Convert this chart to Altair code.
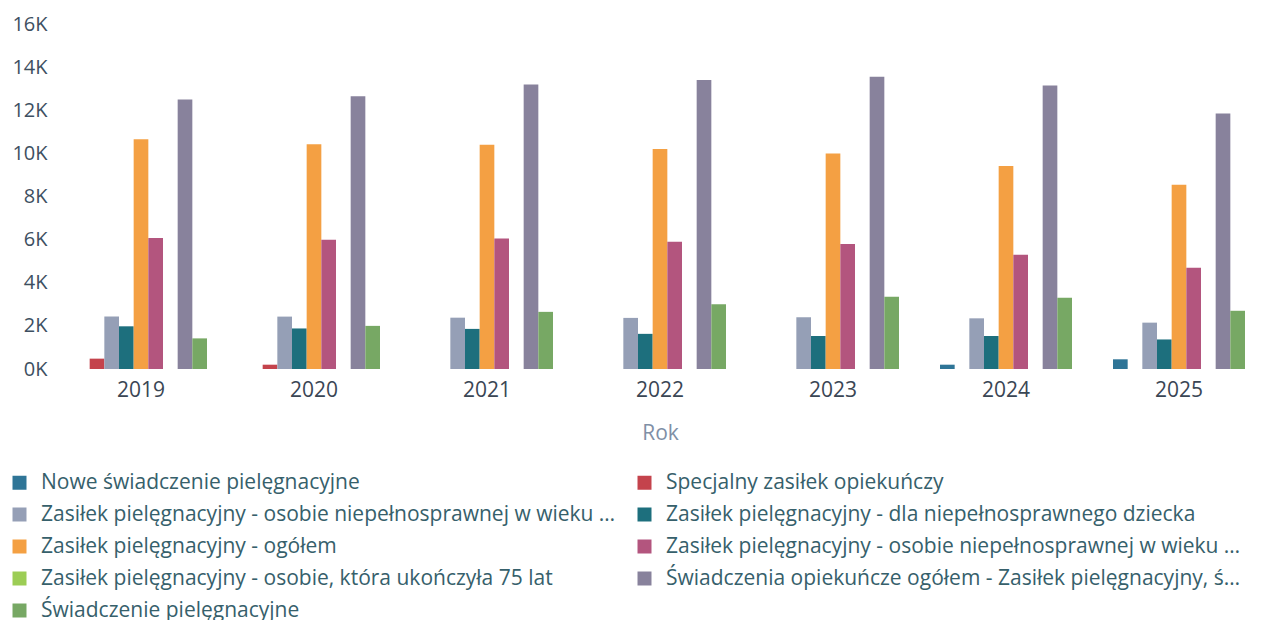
import altair as alt
import pandas as pd

years = ["2019", "2020", "2021", "2022", "2023", "2024", "2025"]

series = [
    "Nowe świadczenie pielęgnacyjne",
    "Specjalny zasiłek opiekuńczy",
    "Zasiłek pielęgnacyjny -  osobie niepełnosprawnej w wieku powyżej 16 roku życia, jeżeli legitymuje się orzeczeniem o znacznym stopniu niepełnosprawności",
    "Zasiłek pielęgnacyjny - dla niepełnosprawnego dziecka",
    "Zasiłek pielęgnacyjny - ogółem",
    "Zasiłek pielęgnacyjny - osobie niepełnosprawnej w wieku powyżej 16 roku życia, jeżeli legitymuje się orzeczeniem o umiarkowanym stopniu niepełnosprawności",
    "Zasiłek pielęgnacyjny - osobie, która ukończyła 75 lat",
    "Świadczenia opiekuńcze ogółem - Zasiłek pielęgnacyjny, świadczenie pielęgnacyjne, specjalny zasiłek opiekuńczy",
    "Świadczenie pielęgnacyjne",
]

colors = ["#2f7597", "#c4434c", "#959fb6", "#1d6f7d", "#f4a043",
          "#b3557e", "#9ccd55", "#88829c", "#77a864"]

nowe = [0, 0, 0, 0, 0, 200, 450]
specjalny = [480, 200, 0, 0, 0, 0, 0]
znaczny = [2430, 2430, 2380, 2370, 2400, 2350, 2150]
dziecko = [1980, 1880, 1860, 1630, 1530, 1530, 1370]
ogolem = [10650, 10420, 10400, 10200, 10000, 9420, 8550]
umiarkowany = [6070, 6000, 6050, 5900, 5800, 5300, 4700]
lat75 = [0, 0, 0, 0, 0, 0, 0]
opiekuncze = [12500, 12650, 13200, 13400, 13550, 13150, 11850]
swiadczenie = [1420, 2000, 2650, 3000, 3350, 3300, 2700]

values = [nowe, specjalny, znaczny, dziecko, ogolem, umiarkowany, lat75, opiekuncze, swiadczenie]

rows = []
for s, vals in zip(series, values):
    for y, v in zip(years, vals):
        if v > 0:
            rows.append({"Rok": y, "Seria": s, "Wartość": v})
df = pd.DataFrame(rows)

# legend is filled column by column: reorder so it reads row by row
legend_order = [0, 2, 4, 6, 8, 1, 3, 5, 7]
legend_domain = [series[i] for i in legend_order]
legend_range = [colors[i] for i in legend_order]

FONT = "Open Sans"

chart = alt.Chart(df).mark_bar().encode(
    x=alt.X("Rok:N", sort=years,
            scale=alt.Scale(paddingInner=0.237, paddingOuter=0),
            axis=alt.Axis(title="Rok", labelAngle=0, domain=False, ticks=False,
                          labelFontSize=21, labelColor="#3a4654", labelPadding=10,
                          titleFontSize=21, titleColor="#7f8fa6", titleFontWeight="normal",
                          titlePadding=22, labelFont=FONT, titleFont=FONT)),
    xOffset=alt.XOffset("Seria:N", sort=series,
                        scale=alt.Scale(domain=series, paddingInner=0, paddingOuter=0)),
    y=alt.Y("Wartość:Q",
            scale=alt.Scale(domain=[0, 16000], nice=False),
            axis=alt.Axis(title=None, values=list(range(0, 16001, 2000)),
                          labelExpr="(datum.value/1000) + 'K'", grid=False,
                          domain=False, ticks=False, labelFontSize=20,
                          labelColor="#3d4f61", labelPadding=28, labelFont=FONT)),
    color=alt.Color("Seria:N",
                    scale=alt.Scale(domain=legend_domain, range=legend_range),
                    legend=alt.Legend(title=None, orient="none", legendX=-66, legendY=448,
                                      columns=2, symbolType="square", symbolSize=196,
                                      labelFontSize=21, labelColor="#36606b",
                                      labelLimit=585, labelOffset=11,
                                      columnPadding=13, rowPadding=10,
                                      labelFont=FONT, symbolStrokeWidth=0)),
).properties(
    width=1170,
    height=345,
    autosize=alt.AutoSizeParams(type="none"),
    padding={"left": 67, "top": 16, "right": 8, "bottom": 253},
).configure_view(stroke=None)

chart.save("out.html", embed_options={"renderer": "svg", "actions": False})
